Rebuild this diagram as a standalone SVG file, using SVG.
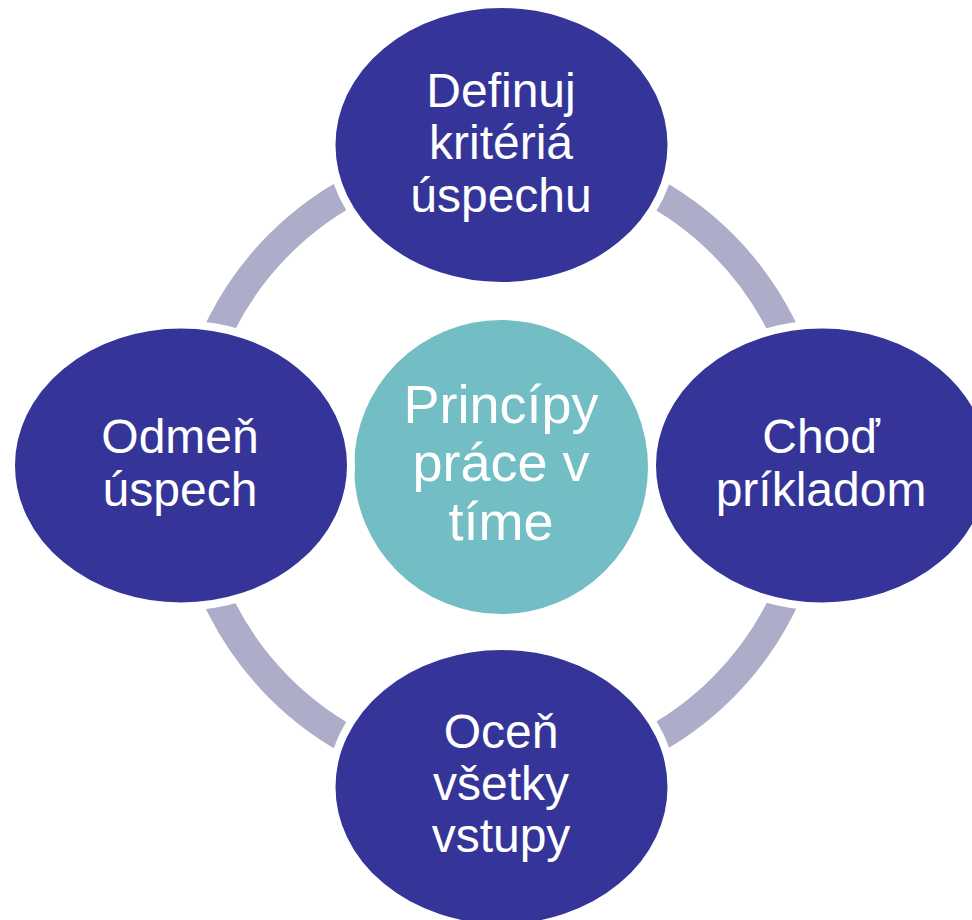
<svg xmlns="http://www.w3.org/2000/svg" width="972" height="920" viewBox="0 0 972 920">
<style>
.node{fill:#353599;stroke:#ffffff;stroke-width:8}
.hub{fill:#72BEC4}
.ring{fill:none;stroke:#ADADCA;stroke-width:29}
.t{font-family:"Liberation Sans",Arial,sans-serif;font-size:48px;fill:#ffffff;text-anchor:middle}
.tc{font-family:"Liberation Sans",Arial,sans-serif;font-size:54px;fill:#ffffff;text-anchor:middle}
</style>
<rect width="972" height="920" fill="#ffffff"/>
<g id="connectors">
<path class="ring" d="M192.3,411.6 A313.5,313.5 0 0 1 446.6,157.3"/>
<path class="ring" d="M555.4,157.3 A313.5,313.5 0 0 1 809.7,411.6"/>
<path class="ring" d="M809.7,520.4 A313.5,313.5 0 0 1 555.4,774.7"/>
<path class="ring" d="M446.6,774.7 A313.5,313.5 0 0 1 192.3,520.4"/>
</g>
<g id="hub">
<circle class="hub" cx="501" cy="467" r="147"/>
<text class="tc" x="501" y="423">Princípy</text>
<text class="tc" x="501" y="481">práce v</text>
<text class="tc" x="501" y="540">tíme</text>
</g>
<g id="node-top">
<ellipse class="node" cx="501.5" cy="145" rx="170" ry="141"/>
<text class="t" x="501" y="107">Definuj</text>
<text class="t" x="501" y="159">kritériá</text>
<text class="t" x="501" y="212">úspechu</text>
</g>
<g id="node-right">
<ellipse class="node" cx="822" cy="465.5" rx="170" ry="141"/>
<text class="t" x="821" y="453">Choď</text>
<text class="t" x="821" y="506">príkladom</text>
</g>
<g id="node-bottom">
<ellipse class="node" cx="501.5" cy="787" rx="170" ry="141"/>
<text class="t" x="501" y="748">Oceň</text>
<text class="t" x="501" y="800">všetky</text>
<text class="t" x="501" y="852">vstupy</text>
</g>
<g id="node-left">
<ellipse class="node" cx="181" cy="465.5" rx="170" ry="141"/>
<text class="t" x="180" y="453">Odmeň</text>
<text class="t" x="180" y="506">úspech</text>
</g>
</svg>
